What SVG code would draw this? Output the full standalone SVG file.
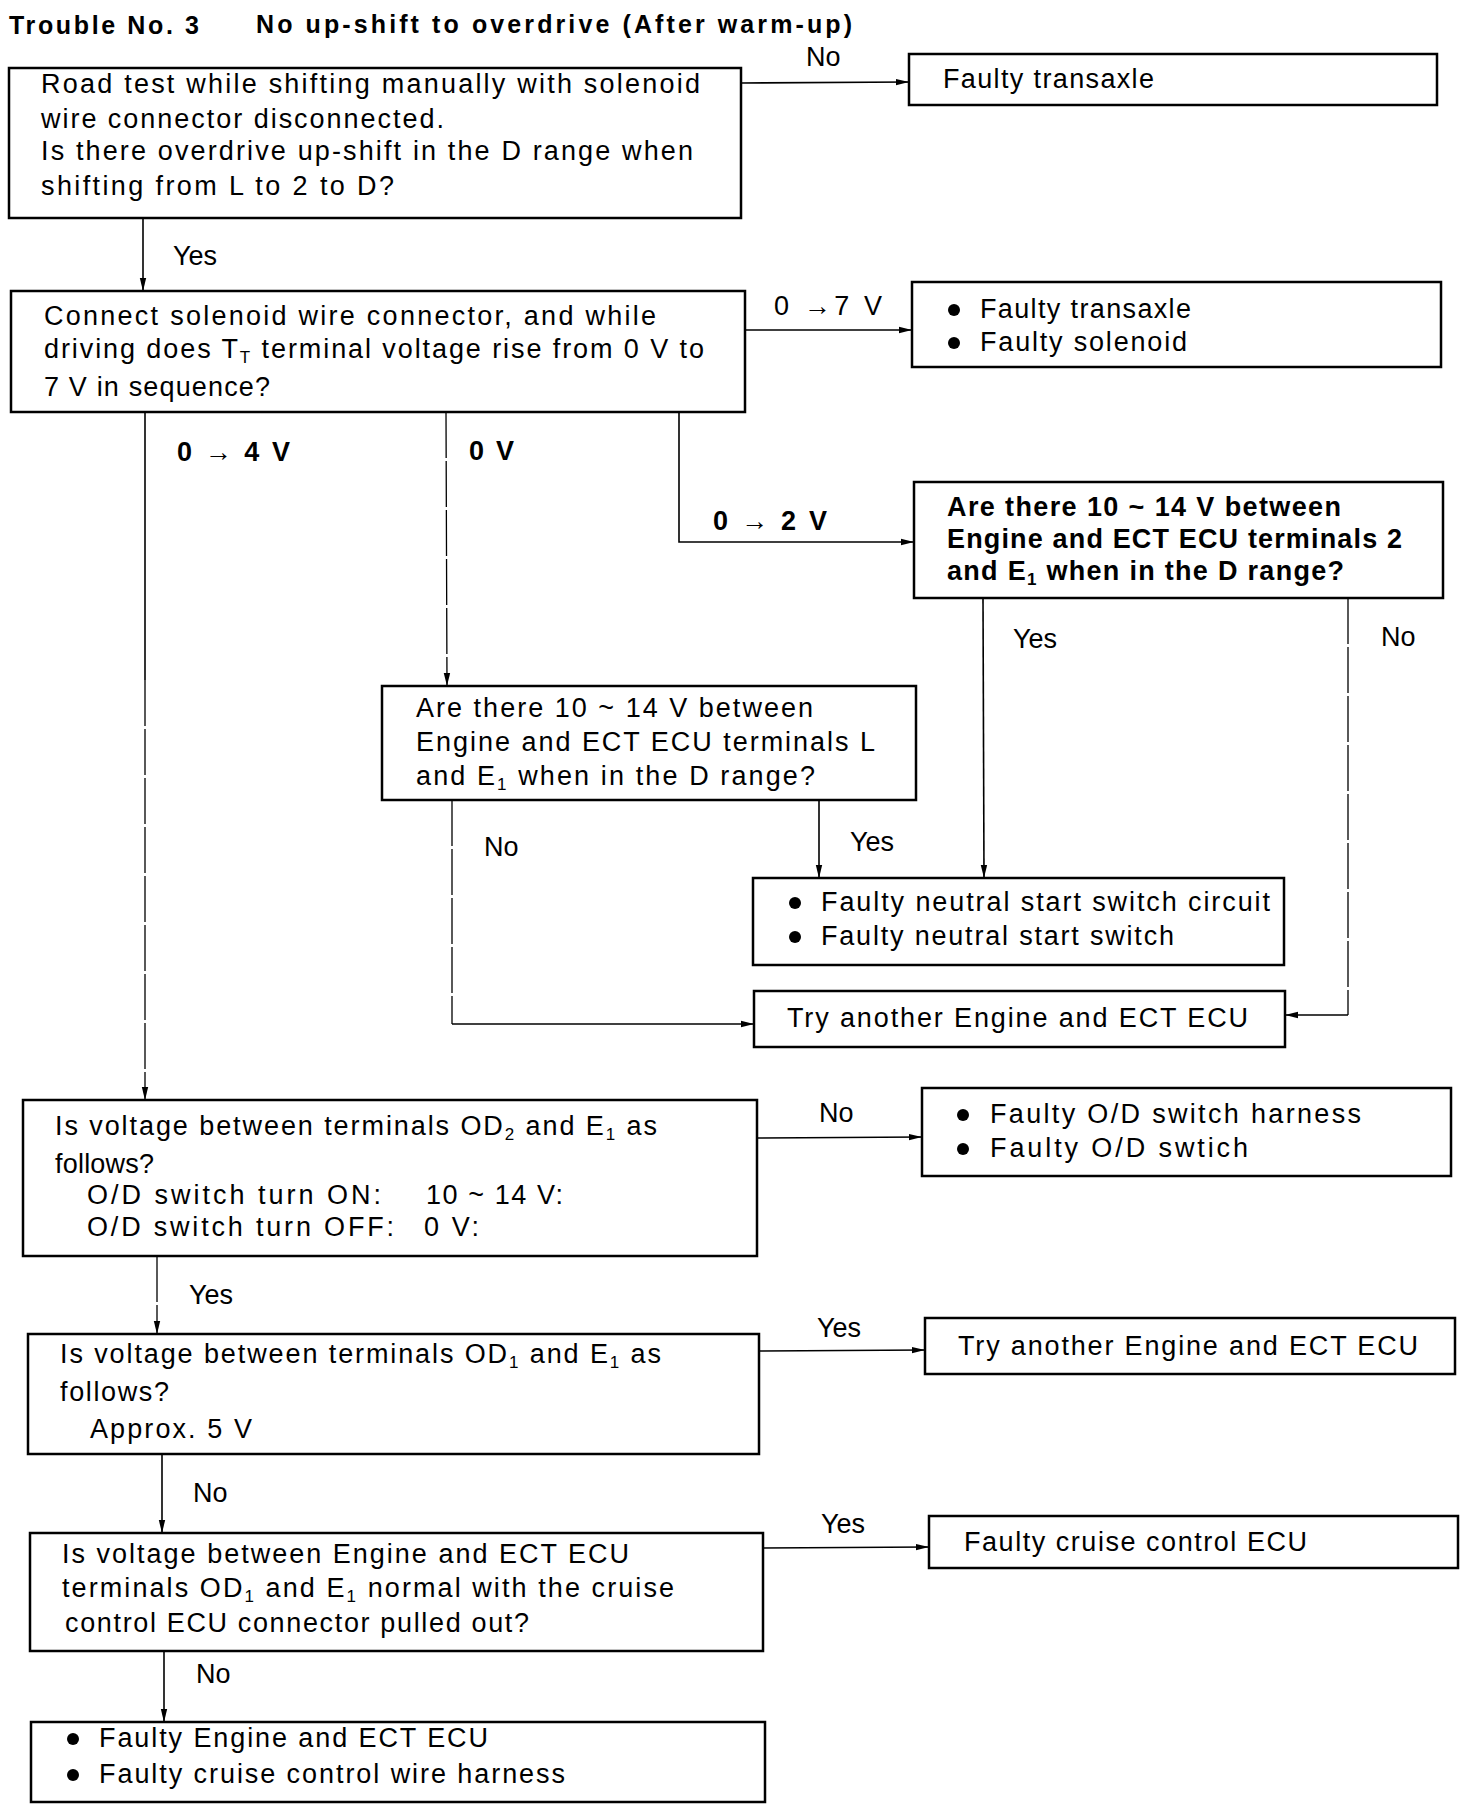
<svg xmlns="http://www.w3.org/2000/svg" width="1472" height="1812" viewBox="0 0 1472 1812">
<style>
.bg{fill:#fff}
.box{fill:none;stroke:#000;stroke-width:2.5}
.t{font-family:"Liberation Sans",Arial,Helvetica,sans-serif;font-size:27px;fill:#000}
.b{font-weight:bold}
.lbl{font-size:27px}
.ti{font-family:"Liberation Sans",Arial,Helvetica,sans-serif;font-size:25px;font-weight:bold;fill:#000}
.c{fill:none;stroke:#000;stroke-width:1.6}
.d{stroke-width:1.3;stroke-dasharray:46 3}
.sub{font-size:17px}
.dot{fill:#000}
</style>
<defs>
<marker id="ah" markerUnits="userSpaceOnUse" markerWidth="14" markerHeight="8" refX="13" refY="4" orient="auto">
<path d="M0,0.8 L13,4 L0,7.2 z" fill="#000"/>
</marker>
</defs>
<rect class="bg" x="0" y="0" width="1472" height="1812"/>
<g id="title">
<text class="ti" x="9" y="34" textLength="190" lengthAdjust="spacing">Trouble No. 3</text>
<text class="ti" x="256" y="33" textLength="596" lengthAdjust="spacing">No up-shift to overdrive (After warm-up)</text>
</g>
<g id="connectors">
<line class="c" x1="741" y1="83" x2="909" y2="82" marker-end="url(#ah)"/>
<line class="c" x1="143" y1="218" x2="143" y2="291" marker-end="url(#ah)"/>
<line class="c" x1="745" y1="330" x2="912" y2="330" marker-end="url(#ah)"/>
<line class="c" x1="145" y1="412" x2="145" y2="680"/>
<line class="c d" x1="145" y1="680" x2="145" y2="1100" marker-end="url(#ah)"/>
<line class="c d" x1="446" y1="412" x2="447" y2="686" marker-end="url(#ah)"/>
<polyline class="c" points="679,412 679,542 914,542" marker-end="url(#ah)"/>
<line class="c" x1="983" y1="598" x2="984" y2="878" marker-end="url(#ah)"/>
<polyline class="c d" points="1348,598 1348,1015"/>
<line class="c" x1="1348" y1="1015" x2="1285" y2="1015" marker-end="url(#ah)"/>
<line class="c" x1="819" y1="800" x2="819" y2="878" marker-end="url(#ah)"/>
<polyline class="c d" points="452,800 452,1024"/>
<line class="c" x1="452" y1="1024" x2="754" y2="1024" marker-end="url(#ah)"/>
<line class="c" x1="757" y1="1138" x2="922" y2="1137" marker-end="url(#ah)"/>
<line class="c d" x1="157" y1="1256" x2="157" y2="1334" marker-end="url(#ah)"/>
<line class="c" x1="759" y1="1351" x2="925" y2="1350" marker-end="url(#ah)"/>
<line class="c" x1="162" y1="1454" x2="162" y2="1533" marker-end="url(#ah)"/>
<line class="c" x1="763" y1="1548" x2="929" y2="1547" marker-end="url(#ah)"/>
<line class="c" x1="164" y1="1651" x2="164" y2="1722" marker-end="url(#ah)"/>
<text class="t lbl" x="806" y="66">No</text>
<text class="t lbl" x="173" y="265">Yes</text>
<text class="t lbl" x="774" y="315" textLength="108" lengthAdjust="spacing">0 →7 V</text>
<text class="t lbl b" x="177" y="461" textLength="113" lengthAdjust="spacing">0 → 4 V</text>
<text class="t lbl b" x="469" y="460" textLength="45" lengthAdjust="spacing">0 V</text>
<text class="t lbl b" x="713" y="530" textLength="114" lengthAdjust="spacing">0 → 2 V</text>
<text class="t lbl" x="1013" y="648">Yes</text>
<text class="t lbl" x="1381" y="646">No</text>
<text class="t lbl" x="484" y="856">No</text>
<text class="t lbl" x="850" y="851">Yes</text>
<text class="t lbl" x="819" y="1122">No</text>
<text class="t lbl" x="189" y="1304">Yes</text>
<text class="t lbl" x="817" y="1337">Yes</text>
<text class="t lbl" x="193" y="1502">No</text>
<text class="t lbl" x="821" y="1533">Yes</text>
<text class="t lbl" x="196" y="1683">No</text>
</g>
<g id="n1">
<rect class="box" x="9" y="68" width="732" height="150"/>
<text class="t" x="41" y="93" textLength="659" lengthAdjust="spacing">Road test while shifting manually with solenoid</text>
<text class="t" x="41" y="128" textLength="403" lengthAdjust="spacing">wire connector disconnected.</text>
<text class="t" x="41" y="160" textLength="652" lengthAdjust="spacing">Is there overdrive up-shift in the D range when</text>
<text class="t" x="41" y="195" textLength="353" lengthAdjust="spacing">shifting from L to 2 to D?</text>
</g>
<g id="n2">
<rect class="box" x="909" y="54" width="528" height="51"/>
<text class="t" x="943" y="88" textLength="211" lengthAdjust="spacing">Faulty transaxle</text>
</g>
<g id="n3">
<rect class="box" x="11" y="291" width="734" height="121"/>
<text class="t" x="44" y="325" textLength="612" lengthAdjust="spacing">Connect solenoid wire connector, and while</text>
<text class="t" x="44" y="358" textLength="660" lengthAdjust="spacing">driving does T<tspan class="sub" dy="5">T</tspan><tspan dy="-5"> terminal voltage rise from 0 V to</tspan></text>
<text class="t" x="44" y="396" textLength="226" lengthAdjust="spacing">7 V in sequence?</text>
</g>
<g id="n4">
<rect class="box" x="912" y="282" width="529" height="85"/>
<circle class="dot" cx="954" cy="310" r="6"/>
<circle class="dot" cx="954" cy="343" r="6"/>
<text class="t" x="980" y="318" textLength="211" lengthAdjust="spacing">Faulty transaxle</text>
<text class="t" x="980" y="351" textLength="207" lengthAdjust="spacing">Faulty solenoid</text>
</g>
<g id="n5">
<rect class="box" x="914" y="482" width="529" height="116"/>
<text class="t b" x="947" y="516" textLength="394" lengthAdjust="spacing">Are there 10 ~ 14 V between</text>
<text class="t b" x="947" y="548" textLength="455" lengthAdjust="spacing">Engine and ECT ECU terminals 2</text>
<text class="t b" x="947" y="580" textLength="397" lengthAdjust="spacing">and E<tspan class="sub" dy="5">1</tspan><tspan dy="-5"> when in the D range?</tspan></text>
</g>
<g id="n6">
<rect class="box" x="382" y="686" width="534" height="114"/>
<text class="t" x="416" y="717" textLength="397" lengthAdjust="spacing">Are there 10 ~ 14 V between</text>
<text class="t" x="416" y="751" textLength="459" lengthAdjust="spacing">Engine and ECT ECU terminals L</text>
<text class="t" x="416" y="785" textLength="399" lengthAdjust="spacing">and E<tspan class="sub" dy="5">1</tspan><tspan dy="-5"> when in the D range?</tspan></text>
</g>
<g id="n7">
<rect class="box" x="753" y="878" width="531" height="87"/>
<circle class="dot" cx="795" cy="903" r="6"/>
<circle class="dot" cx="795" cy="937" r="6"/>
<text class="t" x="821" y="911" textLength="449" lengthAdjust="spacing">Faulty neutral start switch circuit</text>
<text class="t" x="821" y="945" textLength="353" lengthAdjust="spacing">Faulty neutral start switch</text>
</g>
<g id="n8">
<rect class="box" x="754" y="991" width="531" height="56"/>
<text class="t" x="787" y="1027" textLength="461" lengthAdjust="spacing">Try another Engine and ECT ECU</text>
</g>
<g id="n9">
<rect class="box" x="23" y="1100" width="734" height="156"/>
<text class="t" x="55" y="1135" textLength="602" lengthAdjust="spacing">Is voltage between terminals OD<tspan class="sub" dy="5">2</tspan><tspan dy="-5"> and E</tspan><tspan class="sub" dy="5">1</tspan><tspan dy="-5"> as</tspan></text>
<text class="t" x="55" y="1173" textLength="99" lengthAdjust="spacing">follows?</text>
<text class="t" x="87" y="1204" textLength="294" lengthAdjust="spacing">O/D switch turn ON:</text>
<text class="t" x="426" y="1204" textLength="137" lengthAdjust="spacing">10 ~ 14 V:</text>
<text class="t" x="87" y="1236" textLength="307" lengthAdjust="spacing">O/D switch turn OFF:</text>
<text class="t" x="424" y="1236" textLength="55" lengthAdjust="spacing">0 V:</text>
</g>
<g id="n10">
<rect class="box" x="922" y="1088" width="529" height="88"/>
<circle class="dot" cx="963" cy="1115" r="6"/>
<circle class="dot" cx="963" cy="1149" r="6"/>
<text class="t" x="990" y="1123" textLength="371" lengthAdjust="spacing">Faulty O/D switch harness</text>
<text class="t" x="990" y="1157" textLength="258" lengthAdjust="spacing">Faulty O/D swtich</text>
</g>
<g id="n11">
<rect class="box" x="28" y="1334" width="731" height="120"/>
<text class="t" x="60" y="1363" textLength="601" lengthAdjust="spacing">Is voltage between terminals OD<tspan class="sub" dy="5">1</tspan><tspan dy="-5"> and E</tspan><tspan class="sub" dy="5">1</tspan><tspan dy="-5"> as</tspan></text>
<text class="t" x="60" y="1401" textLength="109" lengthAdjust="spacing">follows?</text>
<text class="t" x="90" y="1438" textLength="162" lengthAdjust="spacing">Approx. 5 V</text>
</g>
<g id="n12">
<rect class="box" x="925" y="1318" width="530" height="56"/>
<text class="t" x="958" y="1355" textLength="460" lengthAdjust="spacing">Try another Engine and ECT ECU</text>
</g>
<g id="n13">
<rect class="box" x="30" y="1533" width="733" height="118"/>
<text class="t" x="62" y="1563" textLength="567" lengthAdjust="spacing">Is voltage between Engine and ECT ECU</text>
<text class="t" x="62" y="1597" textLength="612" lengthAdjust="spacing">terminals OD<tspan class="sub" dy="5">1</tspan><tspan dy="-5"> and E</tspan><tspan class="sub" dy="5">1</tspan><tspan dy="-5"> normal with the cruise</tspan></text>
<text class="t" x="65" y="1632" textLength="464" lengthAdjust="spacing">control ECU connector pulled out?</text>
</g>
<g id="n14">
<rect class="box" x="929" y="1516" width="529" height="52"/>
<text class="t" x="964" y="1551" textLength="343" lengthAdjust="spacing">Faulty cruise control ECU</text>
</g>
<g id="n15">
<rect class="box" x="31" y="1722" width="734" height="80"/>
<circle class="dot" cx="73" cy="1739" r="6"/>
<circle class="dot" cx="73" cy="1775" r="6"/>
<text class="t" x="99" y="1747" textLength="389" lengthAdjust="spacing">Faulty Engine and ECT ECU</text>
<text class="t" x="99" y="1783" textLength="466" lengthAdjust="spacing">Faulty cruise control wire harness</text>
</g>
</svg>
